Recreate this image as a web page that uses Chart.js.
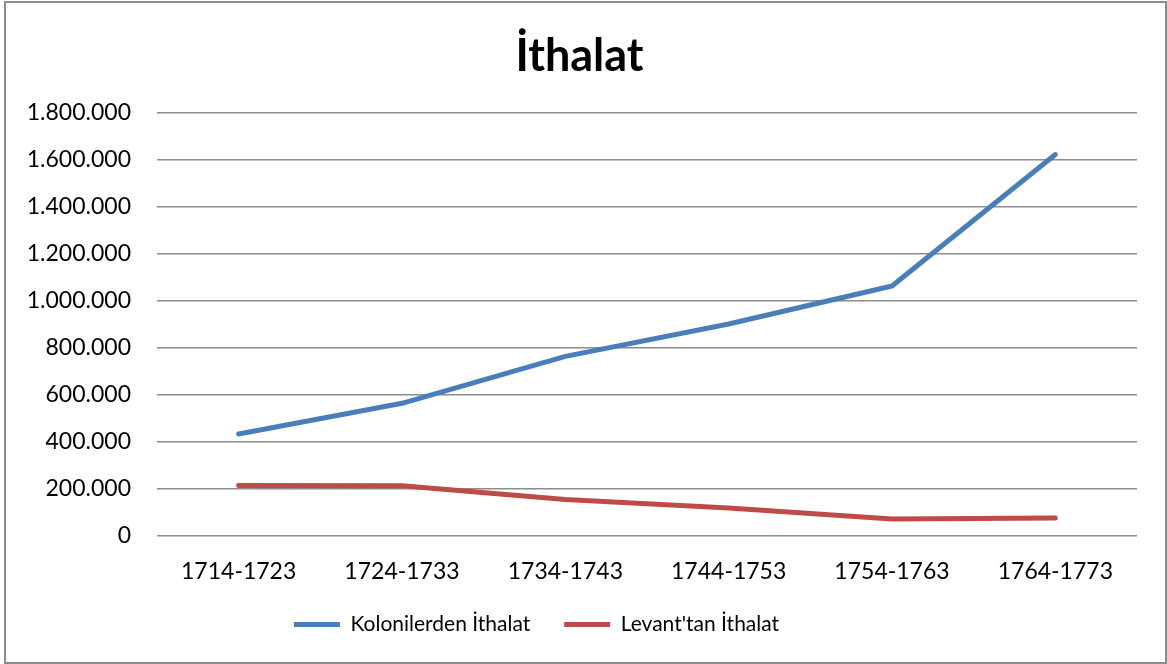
<!DOCTYPE html>
<html>
<head>
<meta charset="utf-8">
<script src="https://cdn.jsdelivr.net/npm/chart.js@4.4.0/dist/chart.umd.min.js"></script>
<style>
  html, body { margin: 0; padding: 0; background: #fff; }
  #box {
    position: absolute; left: 4px; top: 1px;
    width: 1159px; height: 659px;
    border: 2px solid #8c8c8c; background: #fff;
  }
</style>
</head>
<body>
<div id="box"><canvas id="chart" width="1159" height="659"></canvas></div>
<script>
// Data
const periods = ['1714-1723', '1724-1733', '1734-1743', '1744-1753', '1754-1763', '1764-1773'];
const kolonilerden = [432000, 563000, 763000, 901000, 1063000, 1623000];
const levanttan = [213000, 212000, 153000, 117000, 70000, 74000];
const yTicks = { min: 0, max: 1800000, step: 200000 };

const FONT = 'Lato, "Open Sans", sans-serif';

// Turkish style thousands separator
function fmt(v) {
    return String(v).replace(/\B(?=(\d{3})+(?!\d))/g, '.');
}

const ctx = document.getElementById('chart').getContext('2d');
const chart = new Chart(ctx, {
    type: 'line',
    data: {
        labels: periods,
        datasets: [{
            label: 'Kolonilerden İthalat',
            data: kolonilerden,
            borderColor: '#4a7ebb',
            backgroundColor: '#4a7ebb',
            borderWidth: 5,
            borderCapStyle: 'round',
            borderJoinStyle: 'round',
            pointRadius: 0,
            tension: 0
        }, {
            label: "Levant'tan İthalat",
            data: levanttan,
            borderColor: '#be4b48',
            backgroundColor: '#be4b48',
            borderWidth: 5,
            borderCapStyle: 'round',
            borderJoinStyle: 'round',
            pointRadius: 0,
            tension: 0
        }]
    },
    options: {
        responsive: false,
        animation: false,
        layout: { padding: { left: 16, right: 28, top: 26, bottom: 17 } },
        plugins: {
            title: {
                display: true,
                text: 'İthalat',
                color: '#000',
                font: { family: FONT, size: 45, weight: 'bold' },
                padding: { top: 0, bottom: 30 }
            },
            legend: {
                position: 'bottom',
                labels: {
                    color: '#000',
                    font: { family: FONT, size: 21 },
                    boxWidth: 46,
                    boxHeight: 5,
                    padding: 7,
                    // trailing spaces only widen the items so the legend sits like the original
                    generateLabels(c) {
                        return c.data.datasets.map((ds, i) => ({
                            text: ds.label + ' '.repeat(i === 0 ? 5 : 16),
                            fillStyle: ds.borderColor,
                            strokeStyle: ds.borderColor,
                            lineWidth: 0,
                            datasetIndex: i,
                            fontColor: '#000'
                        }));
                    }
                }
            },
            tooltip: { enabled: false }
        },
        scales: {
            x: {
                offset: true,
                grid: { display: false, drawTicks: false },
                border: { display: false },
                ticks: { color: '#000', font: { family: FONT, size: 23 }, padding: 22, maxRotation: 0 }
            },
            y: {
                min: yTicks.min,
                max: yTicks.max,
                afterFit(scale) { scale.width = 135; },
                grid: { color: '#8c8c8c', lineWidth: 1.5, drawTicks: false },
                border: { display: false },
                ticks: {
                    stepSize: yTicks.step,
                    color: '#000',
                    font: { family: FONT, size: 23 },
                    padding: 26,
                    callback: v => fmt(v)
                }
            }
        }
    }
});
</script>
</body>
</html>
